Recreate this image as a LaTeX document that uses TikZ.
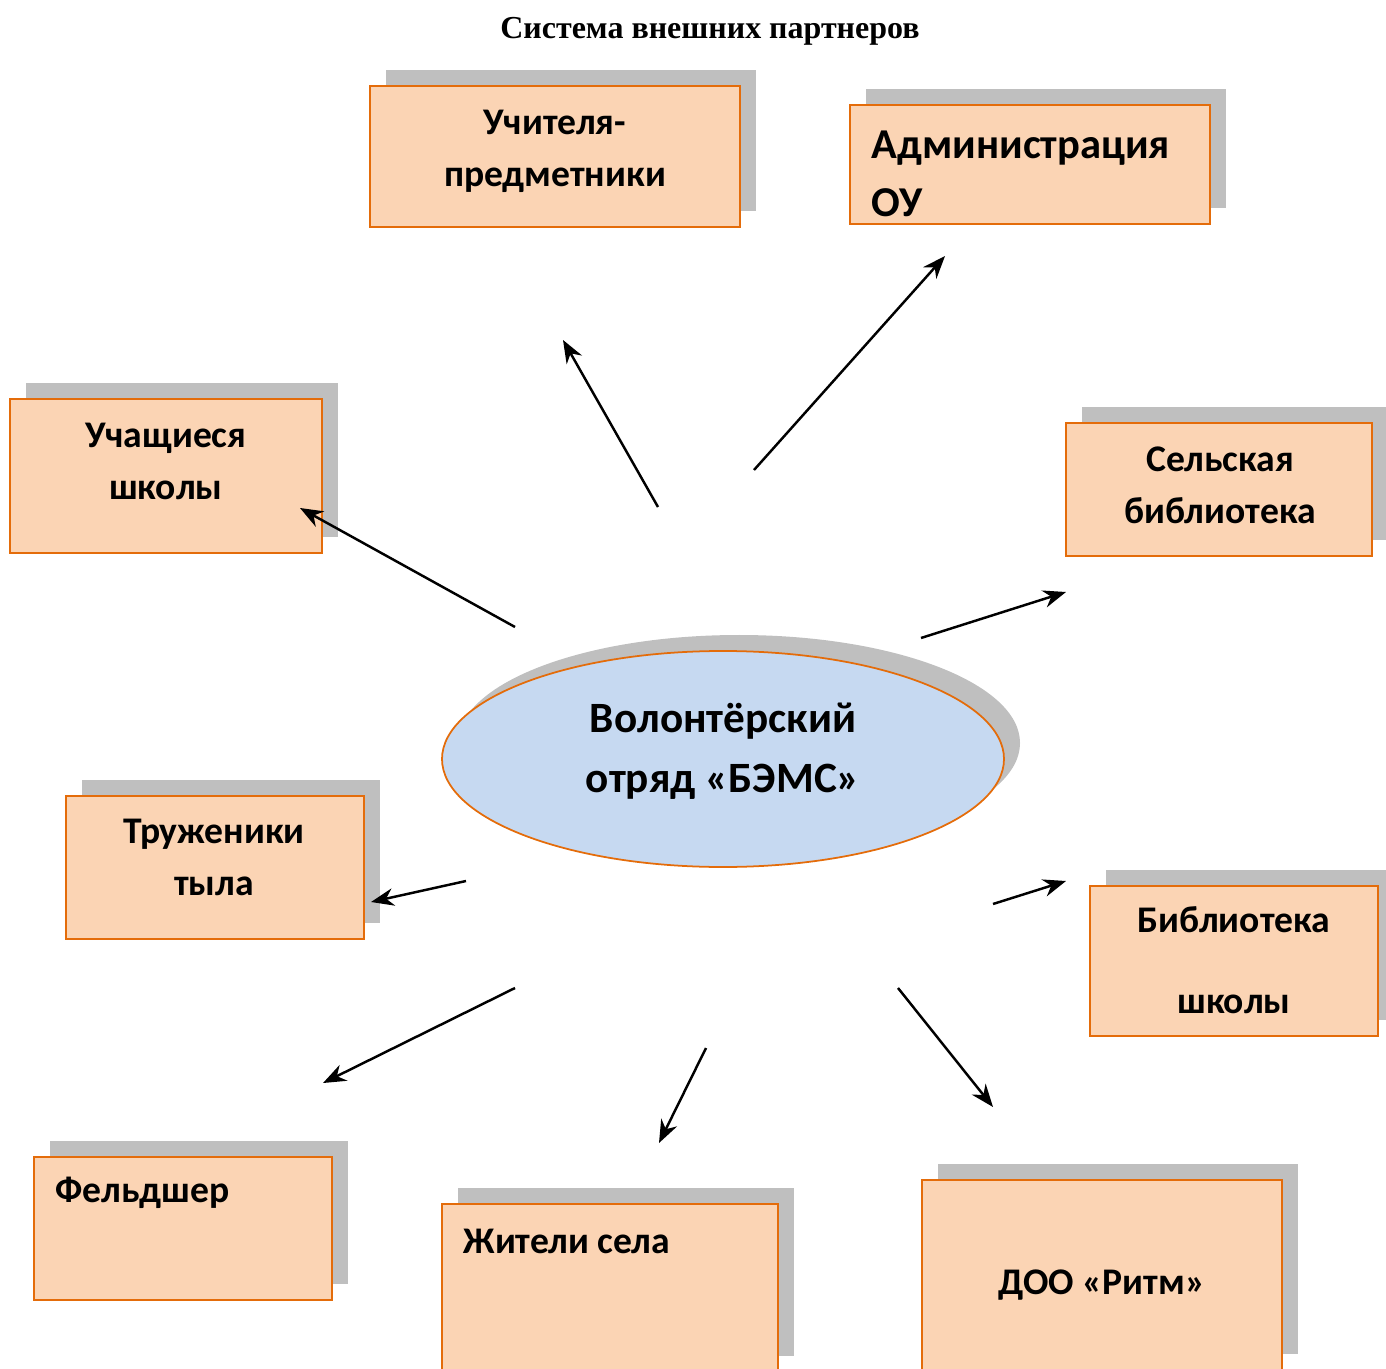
\documentclass[tikz,border=0pt]{standalone}
\usepackage{fontspec}
\setmainfont{Carlito}
\newfontfamily\titlefont{Liberation Serif}
\usetikzlibrary{arrows.meta,shadows,shapes.geometric}

\definecolor{boxfill}{HTML}{FBD4B4}
\definecolor{boxline}{HTML}{E46C0A}
\definecolor{ovalfill}{HTML}{C6D9F1}
\definecolor{shade}{HTML}{BFBFBF}

\tikzset{
  partner/.style={draw=boxline, fill=boxfill, line width=0.6pt, inner sep=0pt,
    drop shadow={shadow xshift=0.16cm, shadow yshift=0.16cm, fill=shade, opacity=1}},
  oval/.style={ellipse, draw=boxline, fill=ovalfill, line width=0.5pt, inner sep=0pt,
    minimum width=5.62cm, minimum height=2.16cm,
    drop shadow={shadow xshift=0.16cm, shadow yshift=0.16cm, fill=shade, opacity=1}},
  txt/.style={align=center, inner sep=0pt, font=\bfseries\fontsize{10.7}{14.8}\selectfont},
  link/.style={line width=0.7pt, -{Stealth[length=6.5pt, width=5pt]}}
}

\begin{document}
\begin{tikzpicture}
\useasboundingbox (0,0) rectangle (13.86,-13.69);
\clip (0,0) rectangle (13.86,-13.69);

\node[inner sep=0pt, font=\titlefont\bfseries\fontsize{9.1}{11}\selectfont] (title) at (7.10,-0.31) {Система внешних партнеров};

% the partners
\node[partner, minimum width=3.70cm, minimum height=1.41cm] (uchit) at (5.55,-1.565) {};
\node[partner, minimum width=3.60cm, minimum height=1.19cm] (admin) at (10.30,-1.645) {};
\node[partner, minimum width=3.12cm, minimum height=1.54cm] (uchash) at (1.66,-4.76) {};
\node[partner, minimum width=3.06cm, minimum height=1.33cm] (selbib) at (12.19,-4.895) {};
\node[partner, minimum width=2.98cm, minimum height=1.43cm] (truzh) at (2.15,-8.675) {};
\node[partner, minimum width=2.88cm, minimum height=1.50cm] (shkbib) at (12.34,-9.61) {};
\node[partner, minimum width=2.98cm, minimum height=1.43cm] (feld) at (1.83,-12.285) {};
\node[partner, minimum width=3.36cm, minimum height=1.68cm] (zhit) at (6.10,-12.88) {};
\node[partner, minimum width=3.60cm, minimum height=1.90cm] (doo) at (11.02,-12.75) {};

\node[txt] (uchit-t) at (5.55,-1.51) {Учителя-\\предметники};
\node[txt, align=left, anchor=west, font=\bfseries\fontsize{12.1}{16.5}\selectfont] (admin-t) at (8.71,-1.74) {Администрация\\ОУ};
\node[txt] (uchash-t) at (1.66,-4.61) {Учащиеся\\школы};
\node[txt] (selbib-t) at (12.20,-4.85) {Сельская\\библиотека};
\node[txt] (truzh-t) at (2.14,-8.575) {Труженики\\тыла};
\node[txt, font=\bfseries\fontsize{10.7}{23}\selectfont] (shkbib-t) at (12.34,-9.605) {Библиотека\\школы};
\node[txt, anchor=west] (feld-t) at (0.55,-11.93) {Фельдшер};
\node[txt, anchor=west] (zhit-t) at (4.63,-12.41) {Жители села};
\node[txt] (doo-t) at (11.02,-12.85) {ДОО «Ритм»};

% the team
\node[oval] (team) at (7.23,-7.59) {};
\node[txt, font=\bfseries\fontsize{12.3}{17}\selectfont] (team-t) at (7.23,-7.51) {Волонтёрский\\отряд «БЭМС»};

% arrows
\coordinate (from-uchit) at (6.58,-5.07);  \coordinate (to-uchit) at (5.63,-3.40);
\coordinate (from-admin) at (7.54,-4.70);  \coordinate (to-admin) at (9.45,-2.56);
\coordinate (from-uchash) at (5.15,-6.27); \coordinate (to-uchash) at (3.00,-5.08);
\coordinate (from-selbib) at (9.21,-6.38); \coordinate (to-selbib) at (10.66,-5.92);
\coordinate (from-truzh) at (4.66,-8.81);  \coordinate (to-truzh) at (3.71,-9.02);
\coordinate (from-shkbib) at (9.93,-9.04); \coordinate (to-shkbib) at (10.66,-8.81);
\coordinate (from-feld) at (5.15,-9.88);   \coordinate (to-feld) at (3.23,-10.83);
\coordinate (from-zhit) at (7.06,-10.48);  \coordinate (to-zhit) at (6.59,-11.43);
\coordinate (from-doo) at (8.98,-9.88);    \coordinate (to-doo) at (9.93,-11.07);

\draw[link] (from-uchit) -- (to-uchit);
\draw[link] (from-admin) -- (to-admin);
\draw[link] (from-uchash) -- (to-uchash);
\draw[link] (from-selbib) -- (to-selbib);
\draw[link] (from-truzh) -- (to-truzh);
\draw[link] (from-shkbib) -- (to-shkbib);
\draw[link] (from-feld) -- (to-feld);
\draw[link] (from-zhit) -- (to-zhit);
\draw[link] (from-doo) -- (to-doo);

\end{tikzpicture}
\end{document}
